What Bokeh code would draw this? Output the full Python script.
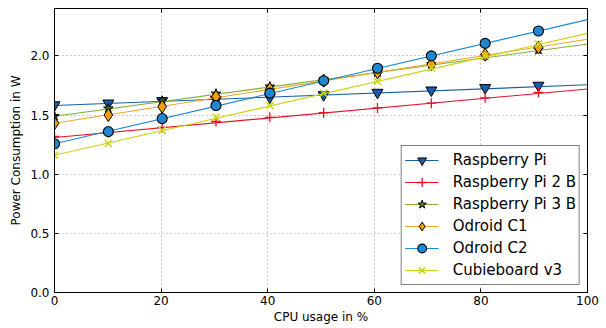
from bokeh.plotting import figure
from bokeh.models import (LinearAxis, SingleIntervalTicker, FixedTicker, Legend,
                          LegendItem, Range1d, PrintfTickFormatter)
from bokeh.embed import file_html
from bokeh.resources import INLINE

# CPU usage (measured points)
cpu = [0, 10.1, 20.2, 30.3, 40.4, 50.5, 60.6, 70.7, 80.8, 90.8]
# fitted line endpoints (x)
fit_x = [0, 100]

names = ["Raspberry Pi", "Raspberry Pi 2 B", "Raspberry Pi 3 B",
         "Odroid C1", "Odroid C2", "Cubieboard v3"]

rpi1 = [1.585, 1.60, 1.62, 1.63, 1.65, 1.67, 1.69, 1.71, 1.73, 1.75]
rpi2 = [1.32, 1.35, 1.395, 1.445, 1.48, 1.52, 1.56, 1.60, 1.645, 1.69]
rpi3 = [1.49, 1.555, 1.62, 1.68, 1.74, 1.80, 1.86, 1.93, 2.00, 2.05]
odc1 = [1.43, 1.50, 1.57, 1.655, 1.72, 1.79, 1.86, 1.93, 2.01, 2.07]
odc2 = [1.257, 1.36, 1.47, 1.58, 1.685, 1.79, 1.895, 2.00, 2.105, 2.21]
cubie = [1.16, 1.26, 1.37, 1.48, 1.58, 1.685, 1.785, 1.895, 2.00, 2.10]

# fitted line values at x = 0 and x = 100
fit_rpi1 = [1.58, 1.755]
fit_rpi2 = [1.31, 1.72]
fit_rpi3 = [1.49, 2.10]
fit_odc1 = [1.43, 2.14]
fit_odc2 = [1.257, 2.306]
fit_cubie = [1.16, 2.19]

x_ticks = [0, 20, 40, 60, 80, 100]
y_ticks = [0.0, 0.5, 1.0, 1.5, 2.0]

FONT = "DejaVu Sans"

p = figure(width=606, height=328, output_backend="svg", toolbar_location=None,
           x_range=Range1d(0, 100), y_range=Range1d(0, 2.4),
           min_border_left=54, min_border_right=19, min_border_top=8,
           min_border_bottom=36)
p.background_fill_color = "white"
p.border_fill_color = "white"
p.outline_line_color = "black"
p.outline_line_width = 1

for ax in (p.xaxis[0], p.yaxis[0]):
    ax.major_tick_in = 4
    ax.major_tick_out = 0
    ax.minor_tick_line_color = None
    ax.axis_line_color = "black"
    ax.major_tick_line_color = "black"
    ax.major_label_text_font = FONT
    ax.major_label_text_font_size = "12px"
    ax.major_label_text_color = "black"
    ax.axis_label_text_font = FONT
    ax.axis_label_text_font_size = "12px"
    ax.axis_label_text_font_style = "normal"
    ax.axis_label_text_color = "black"

p.xaxis[0].ticker = FixedTicker(ticks=x_ticks)
p.yaxis[0].ticker = FixedTicker(ticks=y_ticks)
p.yaxis[0].formatter = PrintfTickFormatter(format="%.1f")
p.xaxis[0].axis_label = "CPU usage in %"
p.yaxis[0].axis_label = "Power Consumption in W"
p.xaxis[0].major_label_standoff = 3
p.xaxis[0].axis_label_standoff = 2
p.yaxis[0].major_label_standoff = 5
p.yaxis[0].axis_label_standoff = 4

# ticks on right and top (no labels)
rax = LinearAxis(ticker=FixedTicker(ticks=y_ticks),
                 major_label_overrides={t: "" for t in y_ticks})
tax = LinearAxis(ticker=FixedTicker(ticks=x_ticks),
                 major_label_overrides={t: "" for t in x_ticks})
for ax in (rax, tax):
    ax.major_tick_in = 4
    ax.major_tick_out = 0
    ax.minor_tick_line_color = None
    ax.axis_line_color = None
    ax.major_tick_line_color = "black"
    ax.major_label_standoff = 0
p.add_layout(rax, "right")
p.add_layout(tax, "above")

p.xgrid.ticker = FixedTicker(ticks=x_ticks)
p.ygrid.ticker = FixedTicker(ticks=y_ticks)
for g in (p.xgrid[0], p.ygrid[0]):
    g.grid_line_color = "#9a9a9a"
    g.grid_line_dash = "1 3"
    g.grid_line_width = 1

series = [
    (rpi1, fit_rpi1, "#1a5ea8", "#1a5ea8", "inverted_triangle", 11, "black", 1),
    (rpi2, fit_rpi2, "#e8102a", "#e8102a", "cross", 10, "#e8102a", 1.3),
    (rpi3, fit_rpi3, "#86b03a", "#5a7a22", "star", 10, "black", 1),
    (odc1, fit_odc1, "#f5a623", "#f09e0a", "diamond", 13, "black", 1),
    (odc2, fit_odc2, "#1f8ad6", "#1f86cf", "circle", 10, "black", 1.1),
    (cubie, fit_cubie, "#ccd418", "#ccd418", "x", 10, "#ccd418", 1.5),
]

items = []
for (vals, fit, lc, fc, marker, size, ec, lw), name in zip(series, names):
    lr = p.line(fit_x, fit, line_color=lc, line_width=1.1)
    sr = p.scatter(cpu, vals, marker=marker, size=size, fill_color=fc,
                   line_color=ec, line_width=lw)
    items.append(LegendItem(label=name, renderers=[lr, sr]))

legend = Legend(items=items, location="bottom_right")
legend.label_text_font = FONT
legend.label_text_font_size = "15px"
legend.label_text_color = "black"
legend.border_line_color = "black"
legend.border_line_width = 1
legend.background_fill_color = "white"
legend.background_fill_alpha = 1
legend.padding = 3
legend.spacing = 0
legend.margin = 7
legend.label_height = 22
legend.glyph_height = 22
legend.glyph_width = 34
legend.label_standoff = 14
p.add_layout(legend, "center")

open("out.html", "w").write(file_html(p, INLINE))
